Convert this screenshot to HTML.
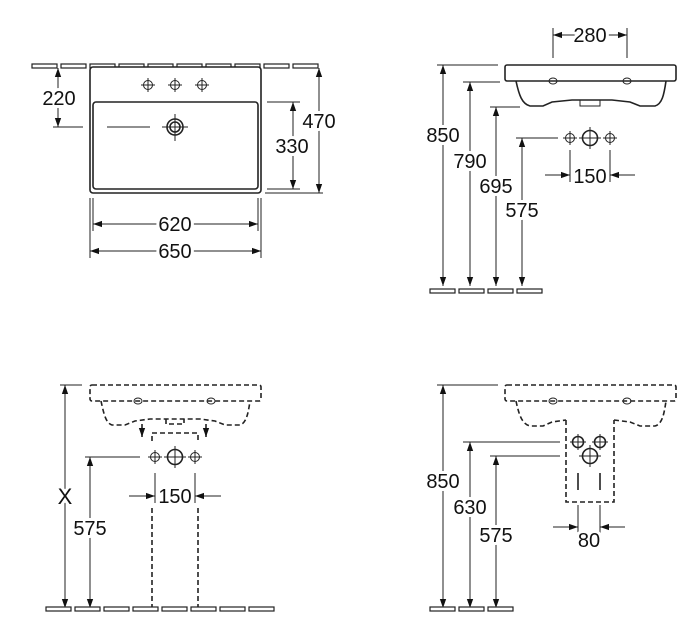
<!DOCTYPE html>
<html><head><meta charset="utf-8"><style>
html,body{margin:0;padding:0;background:#fff}
svg{display:block}
text{font-family:"Liberation Sans",sans-serif;font-size:20px;fill:#111;text-anchor:middle;paint-order:stroke;stroke:#fff;stroke-width:6px;stroke-linejoin:round}
.l{stroke:#222;stroke-width:1;fill:none}
.t{stroke:#222;stroke-width:1.6;fill:none}
.d{stroke:#222;stroke-width:1.6;fill:none;stroke-dasharray:5 3}
.tile{fill:#fff;stroke:#222;stroke-width:1.2}
</style></head><body>
<svg width="699" height="642" viewBox="0 0 699 642" xmlns="http://www.w3.org/2000/svg">
<defs>
<marker id="a" viewBox="0 0 10 10" refX="10" refY="5" markerWidth="9" markerHeight="9" markerUnits="userSpaceOnUse" orient="auto-start-reverse"><path d="M0,1.5 L10,5 L0,8.5z" fill="#111"/></marker>
<g id="fx"><circle r="4.5" class="l"/><path d="M-7,0H7M0,-7V7" class="l"/></g>
<g id="fxb"><circle r="7.5" class="t"/><path d="M-11,0H11M0,-11V11" class="l"/></g>
</defs>

<!-- ===== Q1 ===== -->
<g>
<rect class="tile" x="32" y="64" width="25" height="4"/><rect class="tile" x="61" y="64" width="25" height="4"/>
<rect class="tile" x="90" y="64" width="25" height="4"/><rect class="tile" x="119" y="64" width="25" height="4"/>
<rect class="tile" x="148" y="64" width="25" height="4"/><rect class="tile" x="177" y="64" width="25" height="4"/>
<rect class="tile" x="206" y="64" width="25" height="4"/><rect class="tile" x="235" y="64" width="25" height="4"/>
<rect class="tile" x="264" y="64" width="25" height="4"/><rect class="tile" x="293" y="64" width="25" height="4"/>
<rect x="90" y="67" width="171" height="126" rx="3" class="t" style="fill:#fff"/>
<rect x="93" y="102" width="165" height="87" rx="3" class="t"/>
<use href="#fx" x="148" y="85"/><use href="#fx" x="175" y="85"/><use href="#fx" x="202" y="85"/>
<circle cx="175" cy="127" r="8" class="t"/><circle cx="175" cy="127" r="5" class="t"/>
<path d="M162,127H188M175,114V141" class="l"/>
<line x1="107" y1="127" x2="150" y2="127" class="l"/>
<line x1="53" y1="127" x2="83" y2="127" class="l"/>
<line x1="58" y1="68" x2="58" y2="127" class="l" marker-start="url(#a)" marker-end="url(#a)"/>
<text x="59" y="105">220</text>
<line x1="267" y1="102" x2="300" y2="102" class="l"/><line x1="267" y1="189" x2="300" y2="189" class="l"/>
<line x1="293" y1="102" x2="293" y2="189" class="l" marker-start="url(#a)" marker-end="url(#a)"/>
<text x="292" y="153">330</text>
<line x1="265" y1="193" x2="323" y2="193" class="l"/>
<line x1="319" y1="68" x2="319" y2="193" class="l" marker-start="url(#a)" marker-end="url(#a)"/>
<text x="319" y="128">470</text>
<line x1="93" y1="198" x2="93" y2="231" class="l"/><line x1="258" y1="198" x2="258" y2="231" class="l"/>
<line x1="90" y1="198" x2="90" y2="258" class="l"/><line x1="261" y1="198" x2="261" y2="258" class="l"/>
<line x1="93" y1="224" x2="258" y2="224" class="l" marker-start="url(#a)" marker-end="url(#a)"/>
<text x="175" y="231">620</text>
<line x1="90" y1="251" x2="261" y2="251" class="l" marker-start="url(#a)" marker-end="url(#a)"/>
<text x="175" y="258">650</text>
</g>

<!-- ===== Q2 ===== -->
<g>
<line x1="553" y1="28" x2="553" y2="58" class="l"/><line x1="627" y1="28" x2="627" y2="58" class="l"/>
<line x1="553" y1="35" x2="627" y2="35" class="l" marker-start="url(#a)" marker-end="url(#a)"/>
<text x="590" y="42">280</text>
<rect x="505" y="65" width="171" height="16" rx="2" class="t"/>
<path d="M516,81 C519,95 522,104 530,106 L543,106 L552,102 L572,100 L612,100 L630,102 L640,106 L655,106 C662,104 664,95 666,81" class="t"/>
<rect x="580" y="100" width="20" height="6" class="l"/>
<ellipse cx="553" cy="81" rx="4" ry="3" class="l"/><ellipse cx="627" cy="81" rx="4" ry="3" class="l"/>
<line x1="437" y1="65" x2="498" y2="65" class="l"/>
<line x1="463" y1="82" x2="500" y2="82" class="l"/>
<line x1="490" y1="107" x2="520" y2="107" class="l"/>
<line x1="516" y1="138" x2="558" y2="138" class="l"/>
<line x1="443" y1="65" x2="443" y2="286" class="l" marker-start="url(#a)" marker-end="url(#a)"/>
<line x1="470" y1="82" x2="470" y2="286" class="l" marker-start="url(#a)" marker-end="url(#a)"/>
<line x1="496" y1="107" x2="496" y2="286" class="l" marker-start="url(#a)" marker-end="url(#a)"/>
<line x1="522" y1="138" x2="522" y2="286" class="l" marker-start="url(#a)" marker-end="url(#a)"/>
<text x="443" y="142">850</text><text x="470" y="168">790</text><text x="496" y="193">695</text><text x="522" y="217">575</text>
<use href="#fx" x="570" y="138"/><use href="#fxb" x="590" y="138"/><use href="#fx" x="610" y="138"/>
<line x1="570" y1="150" x2="570" y2="182" class="l"/><line x1="610" y1="150" x2="610" y2="182" class="l"/>
<line x1="545" y1="175" x2="570" y2="175" class="l" marker-end="url(#a)"/>
<line x1="635" y1="175" x2="610" y2="175" class="l" marker-end="url(#a)"/>
<text x="590" y="183">150</text>
<rect class="tile" x="430" y="289" width="25" height="4"/><rect class="tile" x="459" y="289" width="25" height="4"/>
<rect class="tile" x="488" y="289" width="25" height="4"/><rect class="tile" x="517" y="289" width="25" height="4"/>
</g>

<!-- ===== Q3 ===== -->
<g>
<rect x="90" y="385" width="171" height="16" rx="2" class="d"/>
<path d="M101,401 C104,415 106,423 112,425 L125,425 L135,421 L150,419 L200,419 L215,421 L225,425 L240,425 C246,423 248,415 250,401" class="d"/>
<path d="M166,419 L166,424 L184,424 L184,419" class="d"/>
<ellipse cx="138" cy="401" rx="4" ry="3" class="l"/><ellipse cx="211" cy="401" rx="4" ry="3" class="l"/>
<path d="M152,441 V433 H198 V441" class="d"/>
<line x1="142" y1="424" x2="142" y2="437" class="t" marker-end="url(#a)"/>
<line x1="206" y1="424" x2="206" y2="437" class="t" marker-end="url(#a)"/>
<line x1="60" y1="385" x2="82" y2="385" class="l"/>
<line x1="85" y1="457" x2="140" y2="457" class="l"/>
<line x1="65" y1="385" x2="65" y2="608" class="l" marker-start="url(#a)" marker-end="url(#a)"/>
<line x1="90" y1="457" x2="90" y2="608" class="l" marker-start="url(#a)" marker-end="url(#a)"/>
<text x="65" y="504" style="font-size:22px">X</text><text x="90" y="535">575</text>
<use href="#fx" x="155" y="457"/><use href="#fxb" x="175" y="457"/><use href="#fx" x="195" y="457"/>
<line x1="155" y1="473" x2="155" y2="503" class="l"/><line x1="195" y1="473" x2="195" y2="503" class="l"/>
<line x1="129" y1="496" x2="155" y2="496" class="l" marker-end="url(#a)"/>
<line x1="221" y1="496" x2="195" y2="496" class="l" marker-end="url(#a)"/>
<text x="175" y="503">150</text>
<path d="M152,508 V608 M198,508 V608" class="d"/>
<rect class="tile" x="46" y="607" width="25" height="4"/><rect class="tile" x="75" y="607" width="25" height="4"/>
<rect class="tile" x="104" y="607" width="25" height="4"/><rect class="tile" x="133" y="607" width="25" height="4"/>
<rect class="tile" x="162" y="607" width="25" height="4"/><rect class="tile" x="191" y="607" width="25" height="4"/>
<rect class="tile" x="220" y="607" width="25" height="4"/><rect class="tile" x="249" y="607" width="25" height="4"/>
</g>

<!-- ===== Q4 ===== -->
<g>
<rect x="505" y="385" width="171" height="16" rx="2" class="d"/>
<path d="M516,401 C519,415 522,424 530,426 L543,426 L552,422 L566,420 M614,420 L630,422 L640,426 L655,426 C662,424 664,415 666,401" class="d"/>
<path d="M566,420 V502 H614 V420" class="d"/>
<ellipse cx="553" cy="401" rx="4" ry="3" class="l"/><ellipse cx="627" cy="401" rx="4" ry="3" class="l"/>
<line x1="437" y1="385" x2="498" y2="385" class="l"/>
<line x1="463" y1="442" x2="560" y2="442" class="l"/>
<line x1="490" y1="456" x2="560" y2="456" class="l"/>
<line x1="443" y1="385" x2="443" y2="608" class="l" marker-start="url(#a)" marker-end="url(#a)"/>
<line x1="470" y1="442" x2="470" y2="608" class="l" marker-start="url(#a)" marker-end="url(#a)"/>
<line x1="496" y1="456" x2="496" y2="608" class="l" marker-start="url(#a)" marker-end="url(#a)"/>
<text x="443" y="488">850</text><text x="470" y="514">630</text><text x="496" y="542">575</text>
<circle cx="578" cy="442" r="5.5" class="t"/><path d="M570,442H586M578,434V450" class="l"/>
<circle cx="600" cy="442" r="5.5" class="t"/><path d="M592,442H608M600,434V450" class="l"/>
<use href="#fxb" x="590" y="456"/>
<path d="M578,473 V490 M600,473 V490" class="t"/>
<line x1="578" y1="505" x2="578" y2="535" class="l"/><line x1="600" y1="505" x2="600" y2="535" class="l"/>
<line x1="553" y1="527" x2="578" y2="527" class="l" marker-end="url(#a)"/>
<line x1="625" y1="527" x2="600" y2="527" class="l" marker-end="url(#a)"/>
<text x="589" y="547">80</text>
<rect class="tile" x="430" y="607" width="25" height="4"/><rect class="tile" x="459" y="607" width="25" height="4"/>
<rect class="tile" x="488" y="607" width="25" height="4"/>
</g>
</svg>
</body></html>
